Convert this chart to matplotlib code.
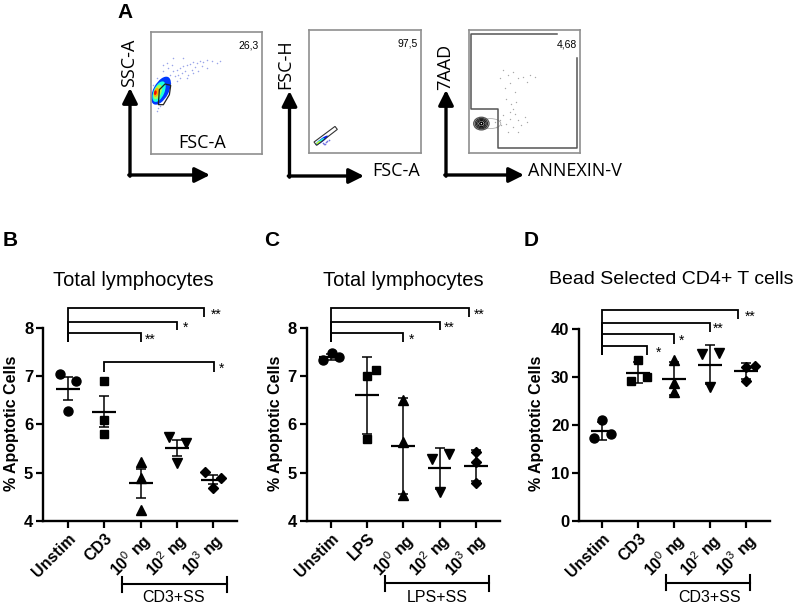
import numpy as np
import matplotlib
matplotlib.use("Agg")
import matplotlib.pyplot as plt
from matplotlib.patches import Ellipse, Polygon
from matplotlib.transforms import blended_transform_factory

plt.rcParams['font.family'] = ['Liberation Sans', 'DejaVu Sans']
plt.rcParams['mathtext.fontset'] = 'custom'
plt.rcParams['mathtext.rm'] = 'Liberation Sans'
plt.rcParams['mathtext.bf'] = 'Liberation Sans:bold'

W, H = 803, 604

# ---------------- data: panels B, C, D (3 donors per group)
groups_cd3 = ['Unstim', 'CD3', r'$\mathbf{10}^{\mathrm{0}}$ ng', r'$\mathbf{10}^{\mathrm{2}}$ ng', r'$\mathbf{10}^{\mathrm{3}}$ ng']
groups_lps = ['Unstim', 'LPS', r'$\mathbf{10}^{\mathrm{0}}$ ng', r'$\mathbf{10}^{\mathrm{2}}$ ng', r'$\mathbf{10}^{\mathrm{3}}$ ng']

b_vals = [[7.05, 6.89, 6.28], [6.89, 6.09, 5.81], [5.23, 4.90, 4.22], [5.73, 5.62, 5.19], [5.01, 4.88, 4.68]]
c_vals = [[7.34, 7.47, 7.39], [7.00, 7.12, 5.69], [6.50, 5.63, 4.53], [5.29, 5.38, 4.59], [5.42, 5.22, 4.79]]
d_vals = [[21.0, 17.3, 18.1], [33.5, 29.3, 30.1], [33.5, 28.8, 26.9], [34.9, 35.1, 27.9], [32.1, 32.4, 29.3]]

# horizontal scatter of the dots inside a group
b_jit = [[-0.23, 0.23, 0], [0, 0, 0], [0, 0, 0], [-0.21, 0.25, 0], [-0.23, 0.23, 0]]
c_jit = [[-0.21, 0.02, 0.23], [0, 0.24, 0], [0, 0, 0], [-0.21, 0.25, 0], [0, 0, 0]]
d_jit = [[0, -0.22, 0.23], [0, -0.21, 0.23], [0, 0, 0], [-0.23, 0.23, 0], [0, 0.25, 0]]

# significance: (from, to, stars)
b_sig = [(0, 2, '**'), (0, 3, '*'), (0, 4, '**'), (1, 4, '*')]
c_sig = [(0, 2, '*'), (0, 3, '**'), (0, 4, '**')]
d_sig = [(0, 1, '*'), (0, 2, '*'), (0, 3, '**'), (0, 4, '**')]

# ---------------- data: panel A flow events (channel units of each plot)
ssc_x = [27, 42, 57, 67, 77, 87, 97, 107, 117, 127, 137, 147, 157, 167, 182, 197, 207, 52, 62, 72, 82, 92,
         102, 112, 122, 132, 142, 37, 47, 32, 22, 17, 27, 12, 37, 67, 97, 152, 167, 87, 107, 127, 7, 17, 57, 77]
ssc_y = [218, 228, 238, 248, 253, 258, 263, 268, 270, 276, 273, 280, 276, 283, 278, 273, 280, 258, 268, 233, 238, 243,
         248, 238, 253, 260, 248, 248, 273, 198, 138, 128, 143, 158, 268, 288, 288, 263, 258, 228, 228, 243, 208, 228, 213, 218]
fsch_x = [45, 50, 55, 42, 60, 48]
fsch_y = [28, 32, 35, 30, 38, 26]
ann_x = [102, 117, 132, 147, 122, 107, 137, 162, 182, 197, 112, 127, 132, 137, 122, 147, 157, 167, 102, 92,
         112, 132, 172, 147, 117, 97, 77, 82, 122, 142, 92, 172]
ann_y = [248, 233, 243, 223, 208, 193, 183, 228, 233, 228, 163, 148, 133, 118, 103, 98, 83, 108, 113, 98,
         88, 78, 93, 63, 63, 83, 93, 78, 123, 153, 223, 213]


def px_axes(fig, left, top, right, bottom):
    return fig.add_axes([left / W, 1 - bottom / H, (right - left) / W, (bottom - top) / H])


def draw_dot_panel(ax, vals, jit, labels, err, ylim, yticks, xlim):
    markers = ['o', 's', '^', 'v', 'D']
    sizes = [6.5, 5.8, 7, 7, 5.2]
    ax.set_xlim(*xlim)
    ax.set_ylim(*ylim)
    for i in range(len(vals)):
        v = np.array(vals[i])
        ax.plot(i + np.array(jit[i]), v, ls='none', marker=markers[i], ms=sizes[i],
                color='black', zorder=3, clip_on=False)
        m = v.mean()
        e = v.std(ddof=1)
        if err == 'sem':
            e = e / np.sqrt(len(v))
        ax.hlines(m, i - 0.33, i + 0.33, color='black', lw=1.6, zorder=4)
        ax.errorbar(i, m, yerr=e, fmt='none', ecolor='black', elinewidth=1.1,
                    capsize=3.8, capthick=1.1, zorder=4)
    for s in ['top', 'right']:
        ax.spines[s].set_visible(False)
    for s in ['left', 'bottom']:
        ax.spines[s].set_linewidth(1.7)
    ax.spines['left'].set_bounds(ylim[0], ylim[1])
    ax.set_yticks(yticks, [str(t) for t in yticks], fontweight='bold', fontsize=12)
    ax.set_xticks(range(len(labels)), labels, rotation=45, ha='right', va='top',
                  rotation_mode='anchor', fontweight='bold', fontsize=11.5)
    ax.tick_params(axis='both', length=5, width=1.6, pad=2)
    ax.patch.set_alpha(0)


def draw_brackets(ax, sig, tops, drops, right_x, left_bottom, star_dx):
    for (a, b, stars), top, drop, rx, sdx in zip(sig, tops, drops, right_x, star_dx):
        lb = left_bottom if a == 0 else drop
        ax.plot([a, a, rx, rx], [lb, top, top, drop], color='black', lw=1.3,
                clip_on=False, solid_joinstyle='miter', solid_capstyle='butt')
        ax.annotate(stars, xy=(rx, (top + drop) / 2), xytext=(sdx, -6), textcoords='offset pixels',
                    ha='left', va='baseline', fontsize=10, annotation_clip=False)


fig = plt.figure(figsize=(W / 100, H / 100), dpi=100)

# ---------------- panel A: flow plots
f1 = px_axes(fig, 151, 32, 262, 154)
f2 = px_axes(fig, 309, 30, 421, 153)
f3 = px_axes(fig, 469, 30, 580, 153)
for f, (xr, yr) in zip([f1, f2, f3], [(332, 366), (336, 370), (332, 368)]):
    f.set_xlim(0, xr)
    f.set_ylim(0, yr)
    f.set_xticks([])
    f.set_yticks([])
    for s in f.spines.values():
        s.set_color('#8f8f8f')
        s.set_linewidth(1.2)

f1.scatter(ssc_x, ssc_y, s=1.2, color='#6f7fe0', alpha=0.7, linewidths=0)
jet = plt.cm.jet
for (cx, cy, w, h, ang), lev in zip([(30, 190, 92, 46, 62), (24, 187, 66, 32, 66), (20, 186, 46, 22, 70),
                                      (16, 185, 28, 14, 75), (13, 184, 14, 8, 80)],
                                     [0.18, 0.38, 0.55, 0.72, 0.9]):
    f1.add_patch(Ellipse((cx, cy), w, h, angle=ang, color=jet(lev), lw=0))
f1.add_patch(Polygon([(22, 148), (25, 193), (42, 210), (59, 206), (55, 178), (37, 148)],
                     closed=True, fill=False, ec='#222222', lw=0.9))
f1.text(0.97, 0.93, '26,3', transform=f1.transAxes, ha='right', va='top', fontsize=7.5)

f2.scatter(fsch_x, fsch_y, s=1.5, color='#7070e0', linewidths=0)
for (cx, cy, w, h), lev in zip([(38, 38, 46, 10), (33, 35, 32, 7), (28, 31, 16, 5)], [0.15, 0.38, 0.6]):
    f2.add_patch(Ellipse((cx, cy), w, h, angle=37, color=jet(lev), lw=0))
f2.add_patch(Polygon([(15, 33), (78, 80), (85, 71), (23, 23)], closed=True, fill=False, ec='#333333', lw=0.8))
f2.text(0.97, 0.93, '97,5', transform=f2.transAxes, ha='right', va='top', fontsize=7.5)

f3.scatter(ann_x, ann_y, s=1.0, color='#a8a8a8', linewidths=0)
f3.add_patch(Ellipse((64, 88), 62, 30, fill=False, ec='#b0b0b0', lw=0.6))
for w, h, c in [(46, 38, '#555555'), (37, 31, '#333333'), (29, 25, '#222222'), (21, 18, '#111111')]:
    f3.add_patch(Ellipse((37, 88), w, h, fill=False, ec=c, lw=0.9))
f3.add_patch(Ellipse((37, 88), 14, 12, color='black', lw=0))
f3.add_patch(Ellipse((37, 88), 4, 4, color='white', lw=0))
f3.plot([262, 7, 7, 87, 87, 322, 322], [355, 355, 133, 133, 15, 15, 283], color='#555555', lw=1.1)
f3.text(0.97, 0.92, '4,68', transform=f3.transAxes, ha='right', va='top', fontsize=7.5)

# ---------------- panels B, C, D
axB = px_axes(fig, 43, 327.7, 237, 521)
axC = px_axes(fig, 306.7, 327.7, 500, 521)
axD = px_axes(fig, 579, 329.3, 770, 521)

draw_dot_panel(axB, b_vals, b_jit, groups_cd3, 'sem', (4, 8), [4, 5, 6, 7, 8], (-0.69, 4.66))
draw_dot_panel(axC, c_vals, c_jit, groups_lps, 'sd', (4, 8), [4, 5, 6, 7, 8], (-0.67, 4.67))
draw_dot_panel(axD, d_vals, d_jit, groups_cd3, 'sd', (0, 40), [0, 10, 20, 30, 40], (-0.65, 4.66))

draw_brackets(axB, b_sig, [7.88, 8.12, 8.40, 7.28], [7.70, 7.95, 8.23, 7.09], [2, 3, 3.76, 4.03], 7.70, [4, 6, 6, 5])
draw_brackets(axC, c_sig, [7.88, 8.12, 8.40], [7.70, 7.95, 8.23], [2, 3, 3.82], 7.70, [5, 4, 5])
draw_brackets(axD, d_sig, [36.5, 38.96, 41.4, 44.0], [34.6, 36.9, 39.5, 42.1], [1.24, 2, 3, 3.78], 34.6, [9, 5, 3, 6])

# overlay in figure pixels for labels and arrows
ov = fig.add_axes([0, 0, 1, 1])
ov.axis('off')
ov.set_xlim(0, W)
ov.set_ylim(H, 0)

for ax, x0, x1, y, txt, tx in [(axB, 1.48, 4.38, 584.3, 'CD3+SS', 174),
                              (axC, 1.49, 4.36, 583.3, 'LPS+SS', 437),
                              (axD, 1.76, 4.10, 582.7, 'CD3+SS', 710)]:
    tr = blended_transform_factory(ax.transData, ov.transData)
    ov.plot([x0, x1], [y, y], color='black', lw=1.5, transform=tr, clip_on=False)
    for xe in (x0, x1):
        ov.plot([xe, xe], [y - 7.5, y + 7.5], color='black', lw=1.5, transform=tr, clip_on=False)
    ov.text(tx, 597, txt, ha='center', va='center', fontsize=11.5)

ov.text(133, 280, 'Total lymphocytes', ha='center', va='center', fontsize=14.5)
ov.text(403, 280, 'Total lymphocytes', ha='center', va='center', fontsize=14.5)
ov.text(671, 279, 'Bead Selected CD4+ T cells', ha='center', va='center', fontsize=14)
for x in (11.7, 276, 537):
    ov.text(x, 423, '% Apoptotic Cells', rotation=90, ha='center', va='center',
            fontsize=11.5, fontweight='bold')

for x, y, letter in [(125.5, 12.5, 'A'), (10, 240.5, 'B'), (272, 240.5, 'C'), (531, 240.5, 'D')]:
    ov.text(x, y, letter, ha='center', va='center', fontsize=15, fontweight='bold')

# axis arrows of the flow plots
head = dict(arrowstyle='-|>,head_width=0.45,head_length=0.9', lw=2.4, color='black',
            shrinkA=0, shrinkB=0, mutation_scale=10)
for x, top, corner, tip in [(130, 88, 175, 210), (289.5, 91, 176, 364), (446, 90, 175, 524)]:
    ov.annotate('', xy=(x, top), xytext=(x, corner + 1.2), arrowprops=head)
    ov.annotate('', xy=(tip, corner), xytext=(x - 1.2, corner), arrowprops=head)

flow_font = dict(family='Open Sans', fontsize=13, ha='center', va='center')
ov.text(129, 62.7, 'SSC-A', rotation=90, **flow_font)
ov.text(285.5, 63.7, 'FSC-H', rotation=90, **flow_font)
ov.text(445, 67, '7AAD', rotation=90, **flow_font)
ov.text(201.7, 143, 'FSC-A', **flow_font)
ov.text(396.5, 171, 'FSC-A', **flow_font)
ov.text(575, 171, 'ANNEXIN-V', **flow_font)

fig.savefig('out.png', dpi=100)
